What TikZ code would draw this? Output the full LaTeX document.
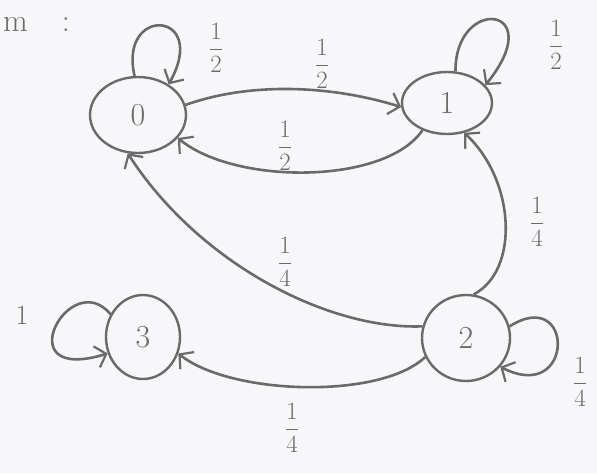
\documentclass[tikz,border=0pt]{standalone}
\usetikzlibrary{arrows.meta,shapes.geometric}
\definecolor{pencil}{HTML}{6A6A6A}
\definecolor{paper}{HTML}{F7F7FA}
\begin{document}
\begin{tikzpicture}[x=1pt,y=-1pt,
  state/.style={draw=pencil,ellipse,line width=2.4pt,inner sep=0pt,text=pencil,font=\fontsize{32}{36}\selectfont},
  edge/.style={draw=pencil,line width=2.6pt,-{Straight Barb[length=10pt,width=22pt,line width=2.2pt]}},
  prob/.style={text=pencil,font=\fontsize{28}{32}\selectfont}]
\fill[paper] (0,0) rectangle (597,474);
\useasboundingbox (0,0) rectangle (597,474);
\node[text=pencil,font=\fontsize{32}{36}\selectfont,anchor=west,inner sep=1pt] (title) at (2,24) {m\hspace{34pt}:};
\node[state,minimum width=96pt,minimum height=76pt] (s0) at (138,115) {0};
\node[state,minimum width=90pt,minimum height=62pt] (s1) at (447,103) {1};
\node[state,minimum width=88pt,minimum height=86pt] (s2) at (466,338) {2};
\node[state,minimum width=74pt,minimum height=84pt] (s3) at (143,337) {3};
% loops
\draw[edge] (s0.95) .. controls (118,5) and (210,10) .. (s0.45);
\draw[edge] (s1.75) .. controls (455,-5) and (550,5) .. (s1.25);
\draw[edge] (s2.15) .. controls (575,285) and (575,405) .. (s2.-40);
\draw[edge] (s3.145) .. controls (70,265) and (5,385) .. (s3.205);
% transitions
\draw[edge] (s0.12) .. controls (250,82) and (330,85) .. (s1.185);
\draw[edge] (s1.228) .. controls (385,185) and (235,185) .. (s0.-30);
\draw[edge] (s2.80) .. controls (520,270) and (515,180) .. (s1.-60);
\draw[edge] (s2.165) .. controls (330,330) and (200,265) .. (s0.-105);
\draw[edge] (s2.205) .. controls (380,400) and (230,395) .. (s3.-25);
% labels
\node[prob] (p00) at (216,48) {$\displaystyle\frac{1}{2}$};
\node[prob] (p01) at (322,64) {$\displaystyle\frac{1}{2}$};
\node[prob] (p10) at (285,146) {$\displaystyle\frac{1}{2}$};
\node[prob] (p11) at (556,45) {$\displaystyle\frac{1}{2}$};
\node[prob] (p21) at (537,222) {$\displaystyle\frac{1}{4}$};
\node[prob] (p20) at (285,262) {$\displaystyle\frac{1}{4}$};
\node[prob] (p22) at (580,382) {$\displaystyle\frac{1}{4}$};
\node[prob] (p23) at (292,428) {$\displaystyle\frac{1}{4}$};
\node[prob] (p33) at (22,315) {1};
\end{tikzpicture}
\end{document}
